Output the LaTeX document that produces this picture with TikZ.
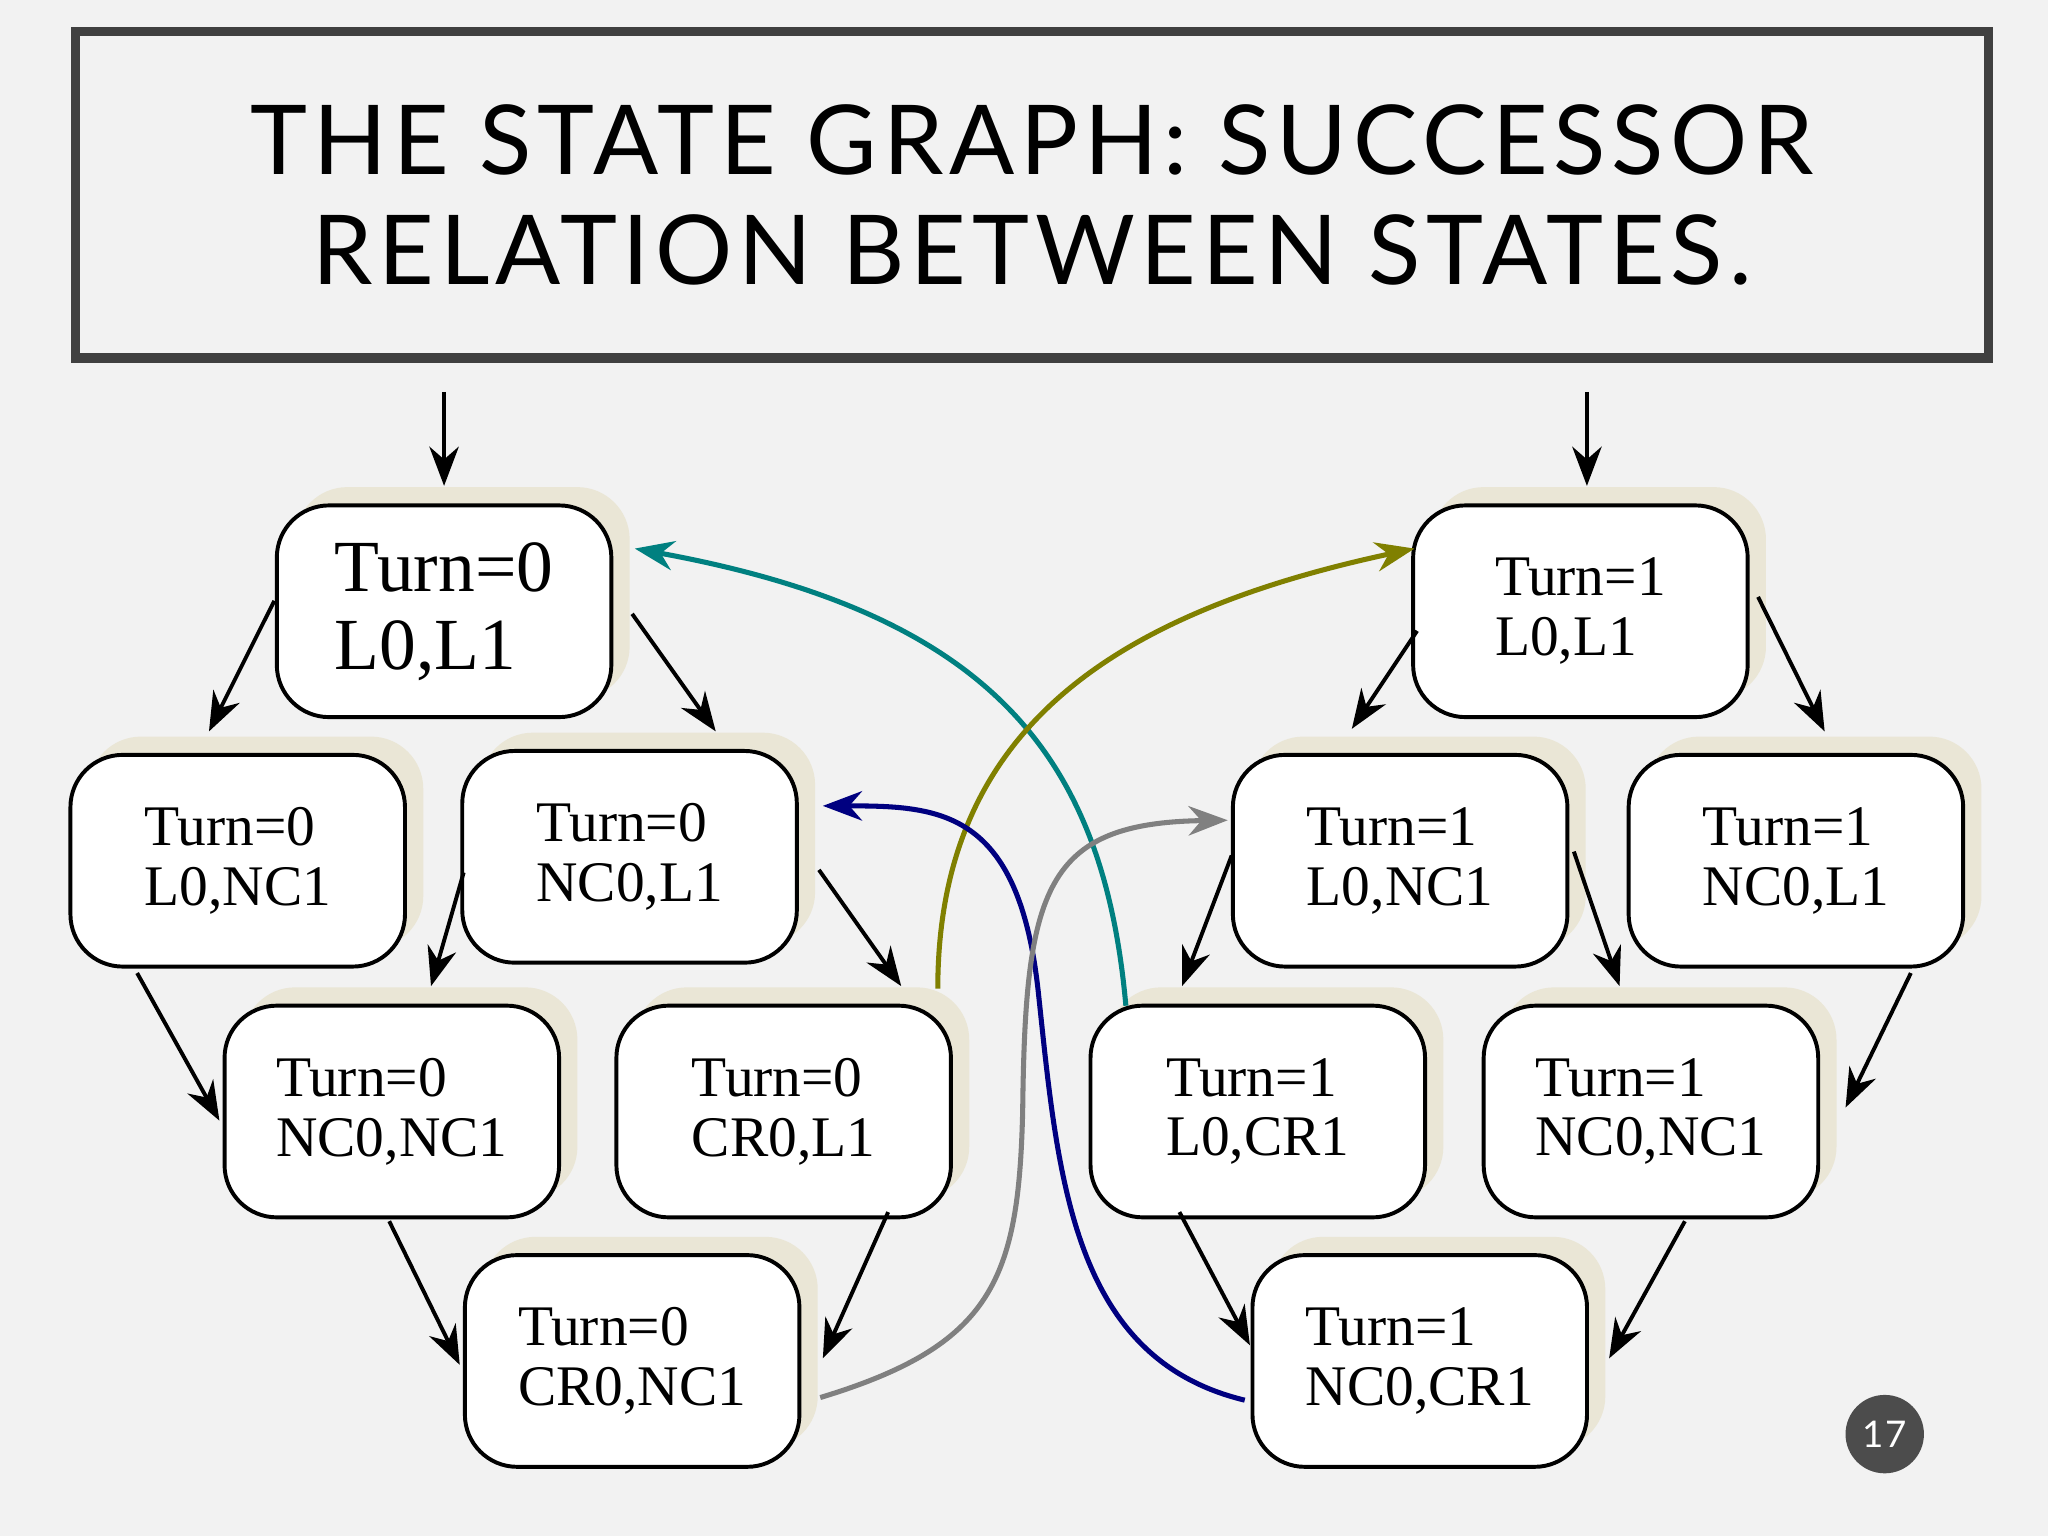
\documentclass[tikz,border=0pt]{standalone}
\usepackage{fontspec}
\setmainfont{Liberation Serif}
\newfontfamily\titlefont[LetterSpace=6]{Lato}
\usetikzlibrary{arrows.meta,calc,shadows}
\definecolor{pageGray}{RGB}{242,242,242}
\definecolor{shadowBeige}{RGB}{234,230,214}
\definecolor{myTeal}{RGB}{0,128,128}
\definecolor{myOlive}{RGB}{128,128,0}
\definecolor{myNavy}{RGB}{0,0,128}
\definecolor{myGray}{RGB}{128,128,128}

\begin{document}
\begin{tikzpicture}[%
	x=0.01cm, y=-0.01cm,
	state/.style={
		draw, fill=white, line width=0.3mm, rounded corners=4mm,
		minimum width=2.56cm, minimum height=1.62cm,
		align=left, font=\fontsize{12.5}{13}\selectfont,
		drop shadow={shadow xshift=0.14cm, shadow yshift=0.14cm,
			fill=shadowBeige, opacity=1},
	},
	trans/.style={line width=0.85pt, -{Stealth[length=3mm]}},
	link/.style={line width=1.1pt, -{Stealth[length=3mm]}},
	]
	% background and title
	\fill[pageGray] (0,0) rectangle (1568,1176);
	\node[draw=black!75, line width=0.7mm, minimum width=14.64cm, minimum height=2.5cm,
		align=center, font=\titlefont\fontsize{21}{24}\selectfont] (title) at (790,149)
		{THE STATE GRAPH: SUCCESSOR\\RELATION BETWEEN STATES.};
	
	% left graph: Turn=0
	\node[state, font=\fontsize{16}{17}\selectfont] (A) at (340,468) {Turn=0\\L0,L1};
	\node[state] (B) at (182,659) {Turn=0\\L0,NC1};
	\node[state] (C) at (482,656) {Turn=0\\NC0,L1};
	\node[state] (D) at (300,851) {Turn=0\\NC0,NC1};
	\node[state] (E) at (600,851) {Turn=0\\CR0,L1};
	\node[state] (F) at (484,1042) {Turn=0\\CR0,NC1};
	
	% right graph: Turn=1
	\node[state] (G) at (1210,468) {Turn=1\\L0,L1};
	\node[state] (H) at (1072,659) {Turn=1\\L0,NC1};
	\node[state] (I) at (1375,659) {Turn=1\\NC0,L1};
	\node[state] (J) at (963,851) {Turn=1\\L0,CR1};
	\node[state] (K) at (1264,851) {Turn=1\\NC0,NC1};
	\node[state] (L) at (1087,1042) {Turn=1\\NC0,CR1};
	
	% initial states
	\coordinate (startA) at (340,300);
	\coordinate (startG) at (1215,300);
	\draw[trans] (startA) -- ($(A)+(0,-96)$);
	\draw[trans] (startG) -- ($(G)+(5,-96)$);
	
	% successor arrows
	\draw[trans] ($(A)+(-130,-8)$) -- ($(B)+(-22,-99)$);
	\draw[trans] ($(A)+(144,2)$) -- ($(C)+(66,-96)$);
	\draw[trans] ($(B)+(-77,86)$) -- ($(D)+(-132,7)$);
	\draw[trans] ($(C)+(-127,12)$) -- ($(D)+(30,-96)$);
	\draw[trans] ($(C)+(145,10)$) -- ($(E)+(90,-96)$);
	\draw[trans] ($(D)+(-2,84)$) -- ($(F)+(-132,3)$);
	\draw[trans] ($(E)+(80,77)$) -- ($(F)+(146,-2)$);
	\draw[trans] ($(G)+(-125,15)$) -- ($(H)+(-37,-101)$);
	\draw[trans] ($(G)+(136,-11)$) -- ($(I)+(22,-99)$);
	\draw[trans] ($(H)+(-129,-4)$) -- ($(J)+(-58,-96)$);
	\draw[trans] ($(H)+(133,-7)$) -- ($(K)+(-24,-96)$);
	\draw[trans] ($(I)+(88,86)$) -- ($(K)+(149,-3)$);
	\draw[trans] ($(J)+(-60,77)$) -- ($(L)+(-130,-12)$);
	\draw[trans] ($(K)+(26,84)$) -- ($(L)+(145,-2)$);
	
	% cross links between the two graphs
	\draw[link, myTeal] ($(J)+(-101,-81)$) .. controls (845,580) and (760,470) .. ($(A)+(146,-48)$);
	\draw[link, myOlive] ($(E)+(118,-94)$) .. controls (718,560) and (850,470) .. ($(G)+(-127,-48)$);
	\draw[link, myNavy] ($(L)+(-134,30)$) .. controls (820,1040) and (810,900) .. (795,760)
		.. controls (780,620) and (720,617) .. ($(C)+(148,-39)$);
	\draw[link, myGray] ($(F)+(144,28)$) .. controls (760,1030) and (780,980) .. (783,850)
		.. controls (785,680) and (800,630) .. ($(H)+(-132,-31)$);
	
	% page number
	\node[circle, fill=black!70, text=white, minimum size=0.6cm, inner sep=0pt,
		font=\titlefont\footnotesize] (page) at (1443,1098) {17};
\end{tikzpicture}
\end{document}
